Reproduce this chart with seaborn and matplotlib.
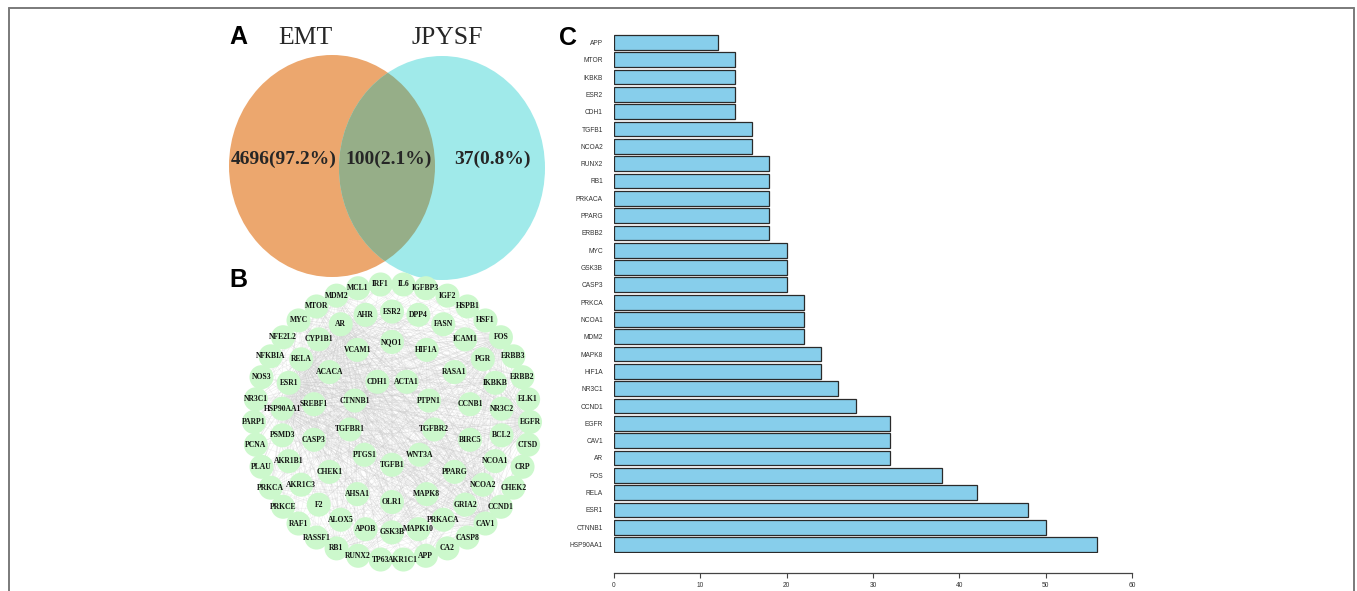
import matplotlib
matplotlib.use("Agg")
import numpy as np
import pandas as pd
import seaborn as sns
import matplotlib.pyplot as plt
from matplotlib.patches import Ellipse
from matplotlib.collections import LineCollection
from matplotlib.lines import Line2D

sns.set_theme(style="white")
plt.rcParams["font.family"] = ["Liberation Sans", "DejaVu Sans"]

# ---- data -------------------------------------------------------------
venn_sets = ["EMT", "JPYSF"]
emt_only, shared, jpysf_only = 4696, 100, 37

# PPI network, concentric rings (clockwise from the top)
ring_outer = ["IRF1", "IL6", "IGFBP3", "IGF2", "HSPB1", "HSF1", "FOS", "ERBB3",
              "ERBB2", "ELK1", "EGFR", "CTSD", "CRP", "CHEK2", "CCND1", "CAV1",
              "CASP8", "CA2", "APP", "AKR1C1", "TP63", "RUNX2", "RB1", "RASSF1",
              "RAF1", "PRKCE", "PRKCA", "PLAU", "PCNA", "PARP1", "NR3C1", "NOS3",
              "NFKBIA", "NFE2L2", "MYC", "MTOR", "MDM2", "MCL1"]
ring_second = ["ESR2", "DPP4", "FASN", "ICAM1", "PGR", "IKBKB", "NR3C2", "BCL2",
               "NCOA1", "NCOA2", "GRIA2", "PRKACA", "MAPK10", "GSK3B", "APOB",
               "ALOX5", "F2", "AKR1C3", "AKR1B1", "PSMD3", "HSP90AA1", "ESR1",
               "RELA", "CYP1B1", "AR", "AHR"]
ring_third = ["NQO1", "HIF1A", "RASA1", "CCNB1", "BIRC5", "PPARG", "MAPK8", "OLR1",
              "AHSA1", "CHEK1", "CASP3", "SREBF1", "ACACA", "VCAM1"]
ring_inner = ["ACTA1", "PTPN1", "TGFBR2", "WNT3A", "TGFB1", "PTGS1", "TGFBR1",
              "CTNNB1", "CDH1"]

# degree of the top 30 hub genes
hub_genes = ["APP", "MTOR", "IKBKB", "ESR2", "CDH1", "TGFB1", "NCOA2", "RUNX2",
             "RB1", "PRKACA", "PPARG", "ERBB2", "MYC", "GSK3B", "CASP3", "PRKCA",
             "NCOA1", "MDM2", "MAPK8", "HIF1A", "NR3C1", "CCND1", "EGFR", "CAV1",
             "AR", "FOS", "RELA", "ESR1", "CTNNB1", "HSP90AA1"]
hub_degree = [12, 14, 14, 14, 14, 16, 16, 18, 18, 18, 18, 18, 20, 20, 20, 22,
              22, 22, 24, 24, 26, 28, 32, 32, 32, 38, 42, 48, 50, 56]

# ---- figure -----------------------------------------------------------
W, H = 1357, 591
fig = plt.figure(figsize=(W / 100, H / 100), dpi=100)


def box(x0, y0, x1, y1):
    return [x0 / W, 1 - y1 / H, (x1 - x0) / W, (y1 - y0) / H]


# overlay in pixel units: frame, panel letters, venn
ov = fig.add_axes([0, 0, 1, 1])
ov.set_xlim(0, W)
ov.set_ylim(H, 0)
ov.axis("off")
for xs, ys in [([9, 9], [H + 5, 8]), ([9, 1354], [8, 8]), ([1354, 1354], [8, H + 5])]:
    ov.add_line(Line2D(xs, ys, color="#7a7a7a", lw=1.4))

for letter, (lx, ly) in zip("ABC", [(238, 37), (238, 280), (568, 38)]):
    ov.text(lx, ly, letter, fontsize=18, fontweight="bold", ha="center",
            va="center", family="Liberation Sans", color="black")

e1 = Ellipse((332, 166), 206, 222, facecolor="#ECA76E", edgecolor="none")
e2 = Ellipse((442, 168), 206, 224, facecolor="#A0EAEA", edgecolor="none")
ov.add_patch(e1)
ov.add_patch(e2)
e3 = Ellipse((442, 168), 206, 224, facecolor="#96AE88", edgecolor="none")
ov.add_patch(e3)
e3.set_clip_path(e1)

ov.text(305, 38, venn_sets[0], fontsize=18.5, family="Liberation Serif",
        ha="center", va="center")
ov.text(447, 38, venn_sets[1], fontsize=18.5, family="Liberation Serif",
        ha="center", va="center")
total = emt_only + shared + jpysf_only
for val, xc in [(emt_only, 284), (shared, 389), (jpysf_only, 492)]:
    ov.text(xc, 159, f"{val}({val / total * 100:.1f}%)", fontsize=14,
            fontweight="bold", family="Liberation Serif", ha="center", va="center")

# ---- network ----------------------------------------------------------
rings = [ring_outer, ring_second, ring_third, ring_inner]
radii = [1.0, 0.80, 0.58, 0.31]
offsets = [-0.5, 0.0, 0.0, 0.5]
rows = []
for names, r, off in zip(rings, radii, offsets):
    n = len(names)
    for i, g in enumerate(names):
        th = np.deg2rad((i + off) * 360 / n)
        rows.append((g, r * np.sin(th), r * np.cos(th)))
nodes = pd.DataFrame(rows, columns=["gene", "x", "y"]).set_index("gene")

deg = dict(zip(hub_genes, hub_degree))
edges = []
for i, a in enumerate(hub_genes):
    for b in hub_genes[i + 1:]:
        edges.append((a, b))
for a in hub_genes:
    if deg[a] >= 32:
        for b in nodes.index:
            if b not in hub_genes:
                edges.append((a, b))
segs = [[(nodes.at[a, "x"], nodes.at[a, "y"]), (nodes.at[b, "x"], nodes.at[b, "y"])]
        for a, b in edges]

net = fig.add_axes(box(232, 262, 552, 582))
lim = 160 / 138
net.set_xlim(-lim, lim)
net.set_ylim(-lim, lim)
net.axis("off")
net.add_collection(LineCollection(segs, colors="#c8c8c8", linewidths=0.3,
                                  alpha=0.4, zorder=1))
sns.scatterplot(data=nodes.reset_index(), x="x", y="y", s=300, color="#CCF8CC",
                edgecolor="none", linewidth=0, ax=net, zorder=2, legend=False)
for g, row in nodes.iterrows():
    net.text(row.x, row.y, g, fontsize=5.5, fontweight="bold",
             family="Liberation Serif", ha="center", va="center", zorder=3,
             color="#111111")

# ---- bar chart --------------------------------------------------------
bar = fig.add_axes(box(614, 33.8, 1132, 553.2))
bars = pd.DataFrame({"gene": hub_genes, "degree": hub_degree})
sns.barplot(data=bars, x="degree", y="gene", orient="h", color="#87CEEB",
            saturation=1, edgecolor="#2a2a2a", linewidth=0.9, width=0.85, ax=bar)
bar.set_xlim(0, 60)
bar.set_ylim(len(hub_genes) - 0.5, -0.5)
bar.set_xticks(range(0, 61, 10))
for s in ["top", "right", "left"]:
    bar.spines[s].set_visible(False)
bar.spines["bottom"].set_position(("outward", 14.4))
bar.spines["bottom"].set_bounds(0, 60)
bar.spines["bottom"].set_color("#444444")
bar.spines["bottom"].set_linewidth(0.9)
bar.tick_params(axis="x", bottom=True, length=3.6, width=0.8, color="#444444",
                labelsize=4.8, labelcolor="#333333", pad=3)
bar.tick_params(axis="y", left=False, length=0, pad=8, labelsize=4.8,
                labelcolor="#333333")
bar.set_xlabel("")
bar.set_ylabel("")

fig.savefig("out.png", dpi=100)
